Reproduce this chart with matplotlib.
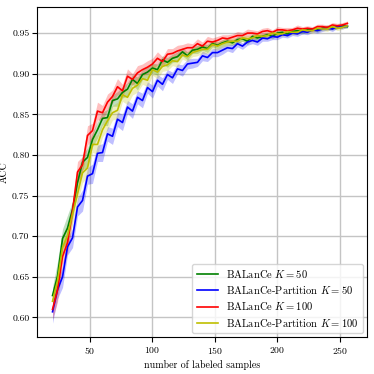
import numpy as np
import matplotlib
matplotlib.use("Agg")
import matplotlib.pyplot as plt

plt.rcParams["font.family"] = "serif"
plt.rcParams["font.serif"] = ["cmr10", "DejaVu Serif"]
plt.rcParams["mathtext.fontset"] = "cm"
plt.rcParams["axes.formatter.use_mathtext"] = True
plt.rcParams["font.size"] = 7

# number of labeled samples
n_labeled = np.arange(20, 260, 4)

# mean accuracy per method
acc_balance_50 = [0.627, 0.651, 0.697, 0.710, 0.733, 0.766, 0.791, 0.797, 0.819, 0.831,
                  0.845, 0.846, 0.867, 0.869, 0.877, 0.881, 0.893, 0.888, 0.899, 0.902,
                  0.907, 0.905, 0.917, 0.914, 0.919, 0.921, 0.927, 0.922, 0.929, 0.930,
                  0.933, 0.931, 0.937, 0.935, 0.938, 0.940, 0.938, 0.942, 0.943, 0.940,
                  0.946, 0.944, 0.946, 0.948, 0.946, 0.950, 0.951, 0.949, 0.952, 0.953,
                  0.952, 0.954, 0.955, 0.954, 0.956, 0.957, 0.956, 0.958, 0.959, 0.958]
acc_partition_50 = [0.607, 0.634, 0.650, 0.687, 0.698, 0.736, 0.744, 0.774, 0.777, 0.802,
                    0.803, 0.826, 0.823, 0.844, 0.840, 0.859, 0.854, 0.871, 0.867, 0.883,
                    0.878, 0.892, 0.887, 0.899, 0.895, 0.906, 0.904, 0.912, 0.913, 0.914,
                    0.922, 0.920, 0.926, 0.926, 0.929, 0.932, 0.931, 0.937, 0.934, 0.939,
                    0.941, 0.939, 0.944, 0.943, 0.946, 0.945, 0.948, 0.947, 0.950, 0.949,
                    0.952, 0.951, 0.954, 0.953, 0.955, 0.956, 0.955, 0.958, 0.957, 0.959]
acc_balance_100 = [0.610, 0.634, 0.675, 0.692, 0.731, 0.779, 0.788, 0.824, 0.830, 0.854,
                   0.852, 0.865, 0.872, 0.884, 0.879, 0.897, 0.893, 0.901, 0.905, 0.908,
                   0.912, 0.919, 0.915, 0.924, 0.925, 0.928, 0.930, 0.932, 0.932, 0.937,
                   0.934, 0.940, 0.939, 0.941, 0.944, 0.943, 0.945, 0.947, 0.947, 0.950,
                   0.950, 0.949, 0.952, 0.953, 0.951, 0.954, 0.954, 0.953, 0.954, 0.956,
                   0.955, 0.956, 0.955, 0.958, 0.958, 0.957, 0.960, 0.959, 0.960, 0.962]
acc_partition_100 = [0.620, 0.645, 0.686, 0.701, 0.727, 0.752, 0.778, 0.784, 0.813, 0.813,
                     0.831, 0.842, 0.852, 0.855, 0.874, 0.871, 0.882, 0.886, 0.894, 0.892,
                     0.905, 0.902, 0.909, 0.911, 0.916, 0.915, 0.923, 0.921, 0.926, 0.928,
                     0.930, 0.930, 0.936, 0.934, 0.937, 0.939, 0.940, 0.940, 0.944, 0.943,
                     0.944, 0.947, 0.946, 0.947, 0.950, 0.949, 0.949, 0.952, 0.951, 0.951,
                     0.954, 0.953, 0.953, 0.956, 0.955, 0.955, 0.958, 0.956, 0.957, 0.959]

# standard deviation per method
std_balance_50 = [0.010, 0.018, 0.012, 0.016, 0.010, 0.013, 0.009, 0.012, 0.009, 0.010,
                  0.008, 0.010, 0.007, 0.009, 0.007, 0.008, 0.006, 0.008, 0.006, 0.007,
                  0.006, 0.007, 0.005, 0.006, 0.005, 0.006, 0.005, 0.005, 0.004, 0.005,
                  0.004, 0.005, 0.004, 0.004, 0.004, 0.004, 0.003, 0.004, 0.003, 0.004,
                  0.003, 0.004, 0.003, 0.003, 0.003, 0.003, 0.003, 0.003, 0.003, 0.003,
                  0.003, 0.003, 0.002, 0.003, 0.002, 0.003, 0.002, 0.003, 0.002, 0.002]
std_partition_50 = [0.014, 0.011, 0.013, 0.010, 0.012, 0.011, 0.013, 0.010, 0.012, 0.010,
                    0.011, 0.009, 0.010, 0.009, 0.010, 0.008, 0.009, 0.008, 0.009, 0.007,
                    0.008, 0.007, 0.008, 0.006, 0.007, 0.006, 0.007, 0.006, 0.006, 0.005,
                    0.006, 0.005, 0.005, 0.005, 0.005, 0.004, 0.005, 0.004, 0.004, 0.004,
                    0.004, 0.004, 0.004, 0.003, 0.004, 0.003, 0.003, 0.003, 0.003, 0.003,
                    0.003, 0.003, 0.003, 0.003, 0.003, 0.002, 0.003, 0.002, 0.002, 0.002]
std_balance_100 = [0.012, 0.015, 0.010, 0.014, 0.011, 0.013, 0.010, 0.012, 0.009, 0.011,
                   0.009, 0.010, 0.008, 0.010, 0.008, 0.009, 0.007, 0.009, 0.007, 0.008,
                   0.007, 0.008, 0.006, 0.007, 0.006, 0.007, 0.006, 0.006, 0.005, 0.006,
                   0.005, 0.006, 0.005, 0.005, 0.004, 0.005, 0.004, 0.005, 0.004, 0.005,
                   0.004, 0.004, 0.004, 0.004, 0.003, 0.004, 0.003, 0.004, 0.003, 0.004,
                   0.003, 0.003, 0.003, 0.003, 0.003, 0.003, 0.003, 0.003, 0.003, 0.003]
std_partition_100 = [0.011, 0.013, 0.012, 0.011, 0.013, 0.010, 0.012, 0.011, 0.010, 0.012,
                     0.009, 0.011, 0.009, 0.010, 0.008, 0.009, 0.008, 0.009, 0.007, 0.008,
                     0.007, 0.008, 0.006, 0.007, 0.006, 0.007, 0.005, 0.006, 0.005, 0.006,
                     0.005, 0.005, 0.005, 0.005, 0.004, 0.005, 0.004, 0.004, 0.004, 0.004,
                     0.004, 0.004, 0.003, 0.004, 0.003, 0.004, 0.003, 0.003, 0.003, 0.003,
                     0.003, 0.003, 0.003, 0.003, 0.002, 0.003, 0.002, 0.003, 0.002, 0.002]

series = [
    (r"BALanCe $K = 50$", acc_balance_50, std_balance_50, "g"),
    (r"BALanCe-Partition $K = 50$", acc_partition_50, std_partition_50, "b"),
    (r"BALanCe $K = 100$", acc_balance_100, std_balance_100, "r"),
    (r"BALanCe-Partition $K = 100$", acc_partition_100, std_partition_100, "y"),
]

fig = plt.figure(figsize=(3.74, 3.74), dpi=100)
ax = fig.add_axes([0.099, 0.099, 0.882, 0.882])

for label, acc, std, color in series:
    acc = np.array(acc)
    std = np.array(std)
    ax.fill_between(n_labeled, acc - std, acc + std, color=color, alpha=0.25, linewidth=0)
    ax.plot(n_labeled, acc, color=color, linewidth=1.2, label=label)

ax.set_xlim(7.6, 271.6)
ax.set_ylim(0.576, 0.982)
ax.set_xticks([50, 100, 150, 200, 250])
ax.set_yticks(np.arange(0.60, 0.951, 0.05))
ax.yaxis.set_major_formatter(matplotlib.ticker.FormatStrFormatter("%.2f"))
ax.tick_params(labelsize=7, pad=2)
ax.grid(True, color="#c4c4c4", linewidth=1)
ax.set_axisbelow(True)
ax.set_xlabel("number of labeled samples", fontsize=7.2, labelpad=3)
ax.set_ylabel("ACC", fontsize=7.2)
ax.yaxis.set_label_coords(-0.085, 0.5)
ax.legend(loc="lower right", fontsize=7.6, labelspacing=0.4, borderaxespad=0.4)

fig.savefig("out.png", dpi=100)
